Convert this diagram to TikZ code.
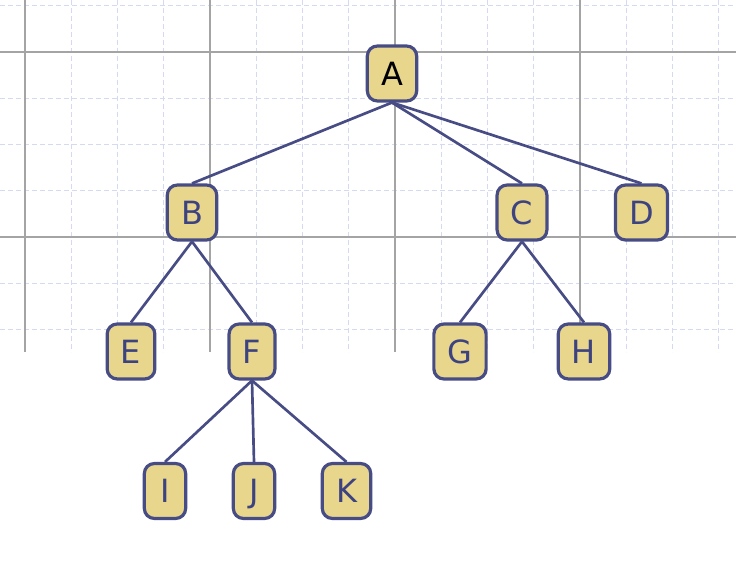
\documentclass[tikz,border=0pt]{standalone}
\usepackage{fontspec}
\setmainfont{DejaVu Sans}
\definecolor{nodefill}{HTML}{E8D68C}
\definecolor{nodeline}{HTML}{484C84}
\definecolor{nodetext}{HTML}{3D4380}
\definecolor{majorgrid}{HTML}{A4A4A4}
\definecolor{minorgrid}{HTML}{D4DAF2}
\pgfdeclarelayer{background}
\pgfsetlayers{background,main}
\tikzset{
  treenode/.style={draw=nodeline, fill=nodefill, line width=2.4pt, rounded corners=7.5pt,
    inner xsep=10.3pt, inner ysep=0pt, minimum height=41.2pt, minimum width=31pt,
    text depth=0pt, font=\fontsize{24pt}{24pt}\selectfont, text=nodetext},
  edge/.style={draw=nodeline, line width=2pt},
  majorline/.style={draw=majorgrid, line width=1.2pt},
  minorline/.style={draw=minorgrid, line width=0.9pt, dash pattern=on 3.5pt off 2.5pt}
}
\begin{document}
\begin{tikzpicture}[x=0.75pt, y=-0.75pt]
\useasboundingbox (0,0) rectangle (736,580);
% nodes
\node[treenode, text=black] (A) at (392,73.5) {A};
\node[treenode] (B) at (192,212.5) {B};
\node[treenode] (C) at (522,212.5) {C};
\node[treenode] (D) at (641.5,212.5) {D};
\node[treenode] (E) at (131,351.5) {E};
\node[treenode] (F) at (252,351.5) {F};
\node[treenode] (G) at (460,351.5) {G};
\node[treenode] (H) at (584,351.5) {H};
\node[treenode] (I) at (165,491) {I};
\node[treenode] (J) at (254,491) {J};
\node[treenode] (K) at (346.5,491) {K};
\begin{pgfonlayer}{background}
% grid
\foreach \k in {1,2,3,5,6,7,9,10,11,13,14,15}{
  \draw[minorline] ({25+46.25*\k},0) -- ({25+46.25*\k},352);
}
\foreach \yy in {5.75,98.25,144.5,190.75,283.25,329.5}{
  \draw[minorline] (0,\yy) -- (736,\yy);
}
\foreach \xx in {25,210,395,580}{
  \draw[majorline] (\xx,0) -- (\xx,352);
}
\draw[majorline] (0,52) -- (736,52);
\draw[majorline] (0,237) -- (736,237);
% edges
\foreach \p/\c in {A/B,A/C,A/D,B/E,B/F,C/G,C/H,F/I,F/J,F/K}{
  \draw[edge] (\p.south) -- (\c.north);
}
\end{pgfonlayer}
\end{tikzpicture}
\end{document}
